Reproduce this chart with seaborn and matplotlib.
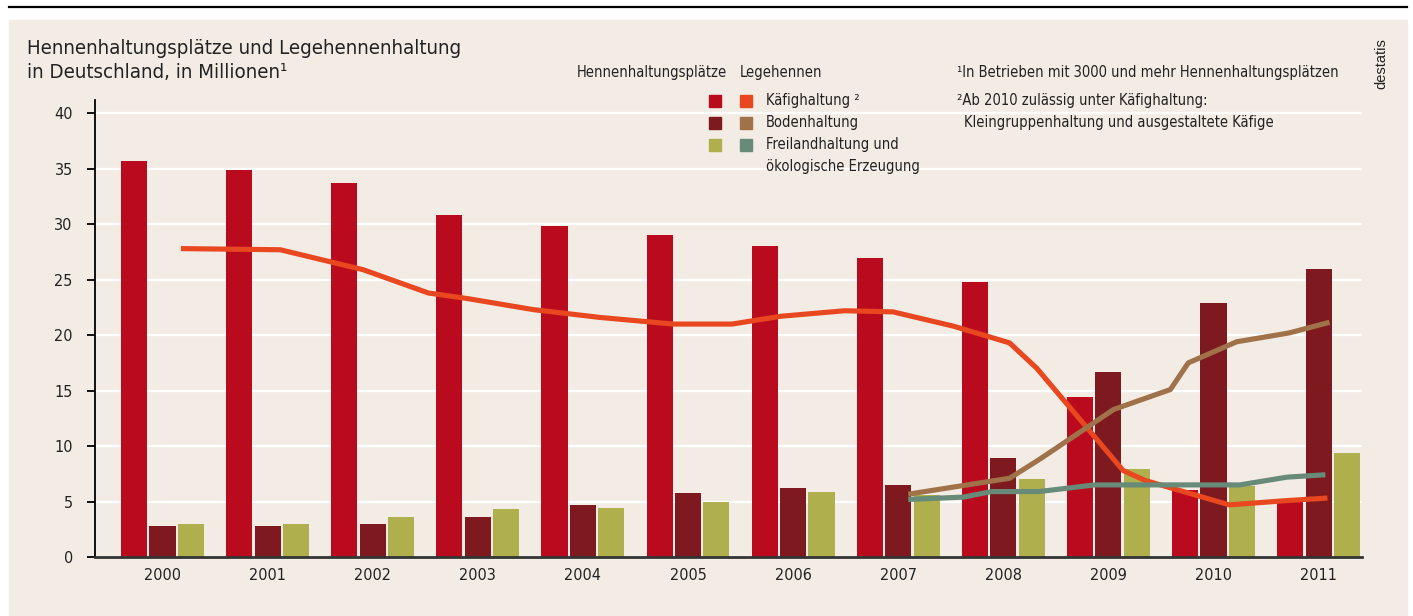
import numpy as np
import pandas as pd
import seaborn as sns
import matplotlib
matplotlib.use("Agg")
import matplotlib.pyplot as plt
from matplotlib import font_manager as fm
from matplotlib.patches import Rectangle
from matplotlib.lines import Line2D

# Hennenhaltungsplaetze (bars), in Millionen
years = [2000, 2001, 2002, 2003, 2004, 2005, 2006, 2007, 2008, 2009, 2010, 2011]
kaefig_plaetze = [35.7, 34.9, 33.7, 30.8, 29.8, 29.0, 28.0, 27.0, 24.8, 14.4, 6.0, 5.0]
boden_plaetze = [2.8, 2.8, 3.0, 3.6, 4.7, 5.8, 6.2, 6.5, 8.9, 16.7, 22.9, 26.0]
freiland_plaetze = [3.0, 3.0, 3.6, 4.3, 4.4, 5.0, 5.9, 5.6, 7.0, 7.9, 6.4, 9.4]

# Legehennen (lines), time as decimal year
kaefig_hennen_t = [2000.2, 2001.12, 2001.91, 2002.53, 2002.9, 2003.53, 2004.16, 2004.86,
                   2005.42, 2005.88, 2006.49, 2006.95, 2007.53, 2008.06, 2008.32,
                   2009.14, 2009.35, 2010.15, 2010.72, 2011.06]
kaefig_hennen = [27.8, 27.7, 25.9, 23.8, 23.3, 22.3, 21.6, 21.0,
                 21.0, 21.7, 22.2, 22.1, 20.8, 19.3, 17.0,
                 7.8, 6.9, 4.7, 5.1, 5.3]
boden_hennen_t = [2007.12, 2008.06, 2008.36, 2009.05, 2009.59, 2009.76, 2010.22, 2010.72, 2011.08]
boden_hennen = [5.7, 7.1, 8.9, 13.3, 15.1, 17.5, 19.4, 20.2, 21.1]
freiland_hennen_t = [2007.12, 2007.62, 2007.89, 2008.34, 2008.87, 2010.25, 2010.7, 2011.04]
freiland_hennen = [5.2, 5.4, 5.9, 5.9, 6.5, 6.5, 7.2, 7.4]

haltung = ["Käfighaltung", "Bodenhaltung", "Freilandhaltung"]
bar_colors = ["#BA0A1E", "#7E1A1F", "#AFAF4E"]
line_colors = ["#E8471F", "#A0724A", "#688A78"]
beige = "#F2ECE5"
txt = "#222222"

# pick a narrow sans font if there is one, otherwise Roboto
narrow = None
for f in fm.fontManager.ttflist:
    if ("Narrow" in f.name or "Condensed" in f.name or "condensed" in str(f.stretch)) \
            and "Mono" not in f.name and "Serif" not in f.name:
        narrow = f
        break
if narrow is not None:
    plt.rcParams["font.family"] = [narrow.name, "DejaVu Sans"]
    if "condensed" in str(narrow.stretch):
        plt.rcParams["font.stretch"] = narrow.stretch
else:
    plt.rcParams["font.family"] = ["Roboto", "DejaVu Sans"]

df = pd.DataFrame({
    "Jahr": years * 3,
    "Wert": kaefig_plaetze + boden_plaetze + freiland_plaetze,
    "Haltung": [h for h in haltung for _ in years],
})

W, H = 1413, 616
fig = plt.figure(figsize=(W / 100, H / 100), dpi=100)
fig.patch.set_facecolor("white")
renderer = fig.canvas.get_renderer()


def fit_size(s, width_px, base=12):
    t = fig.text(0, 0, s, fontsize=base)
    w = t.get_window_extent(renderer).width
    t.remove()
    return base * width_px / w


fig.patches.append(Rectangle((9 / W, 0), (1407 - 9) / W, (H - 20) / H,
                             transform=fig.transFigure, color=beige, zorder=-10))
fig.add_artist(Line2D([9 / W, 1407 / W], [1 - 7 / H, 1 - 7 / H], color="black", lw=1.6))

ax = fig.add_axes([95 / W, (H - 557) / H, (1362 - 95) / W, (557 - 100) / H])
ax.set_facecolor("none")

sns.barplot(data=df, x="Jahr", y="Wert", hue="Haltung", palette=bar_colors,
            width=0.81, gap=0.08, saturation=1, legend=False, ax=ax, zorder=2)

for t, v, c in [(kaefig_hennen_t, kaefig_hennen, line_colors[0]),
                (boden_hennen_t, boden_hennen, line_colors[1]),
                (freiland_hennen_t, freiland_hennen, line_colors[2])]:
    sns.lineplot(x=np.array(t) - years[0], y=v, color=c, linewidth=3.7,
                 sort=False, ax=ax, zorder=3)

tick_fs = min(fit_size("2000", 34) * 1.08, 13.5)
ax.set_xlim(-0.642, 11.413)
ax.set_ylim(0, 41.2)
ax.set_yticks(range(0, 41, 5))
ax.set_xlabel("")
ax.set_ylabel("")
ax.grid(axis="y", color="white", linewidth=1.6)
ax.grid(axis="x", visible=False)
ax.set_axisbelow(True)
for s in ["top", "right"]:
    ax.spines[s].set_visible(False)
ax.spines["left"].set_color("black")
ax.spines["left"].set_linewidth(1.3)
ax.spines["bottom"].set_color("#333333")
ax.spines["bottom"].set_linewidth(2)
ax.spines["bottom"].set_zorder(4)
ax.tick_params(axis="y", length=6, width=1.3, color="black", pad=10,
               labelsize=tick_fs, labelcolor=txt)
ax.tick_params(axis="x", length=0, pad=8, labelsize=tick_fs, labelcolor=txt)

# title
title_fs = fit_size("Hennenhaltungsplätze und Legehennenhaltung", 396) * 1.1
fig.text(27 / W, 1 - 48 / H, "Hennenhaltungsplätze und Legehennenhaltung",
         ha="left", va="center", fontsize=title_fs, color=txt)
fig.text(27 / W, 1 - 72 / H, "in Deutschland, in Millionen¹",
         ha="left", va="center", fontsize=title_fs, color=txt)

# legend
fs = fit_size("¹In Betrieben mit 3000 und mehr Hennenhaltungsplätzen", 365) * 1.04
fig.text(577 / W, 1 - 73 / H, "Hennenhaltungsplätze", ha="left", va="center", fontsize=fs, color=txt)
fig.text(740 / W, 1 - 73 / H, "Legehennen", ha="left", va="center", fontsize=fs, color=txt)
labels = ["Käfighaltung ²", "Bodenhaltung", "Freilandhaltung und"]
for i, lab in enumerate(labels):
    yc = 101 + 22 * i
    fig.patches.append(Rectangle((709 / W, 1 - (yc + 6) / H), 12 / W, 12 / H,
                                 transform=fig.transFigure, color=bar_colors[i]))
    fig.patches.append(Rectangle((740 / W, 1 - (yc + 6) / H), 12 / W, 12 / H,
                                 transform=fig.transFigure, color=line_colors[i]))
    fig.text(766 / W, 1 - yc / H, lab, ha="left", va="center", fontsize=fs, color=txt)
fig.text(766 / W, 1 - 167 / H, "ökologische Erzeugung", ha="left", va="center",
         fontsize=fs, color=txt)

# footnotes
fig.text(957 / W, 1 - 73 / H, "¹In Betrieben mit 3000 und mehr Hennenhaltungsplätzen",
         ha="left", va="center", fontsize=fs, color=txt)
fig.text(957 / W, 1 - 101 / H, "²Ab 2010 zulässig unter Käfighaltung:",
         ha="left", va="center", fontsize=fs, color=txt)
fig.text(964 / W, 1 - 123 / H, "Kleingruppenhaltung und ausgestaltete Käfige",
         ha="left", va="center", fontsize=fs, color=txt)

fig.text(1381 / W, 1 - 64 / H, "destatis", rotation=90, ha="center", va="center",
         fontsize=10.5, color=txt, family=["Liberation Sans", "DejaVu Sans"])

fig.savefig("out.png", dpi=100, facecolor="white")
